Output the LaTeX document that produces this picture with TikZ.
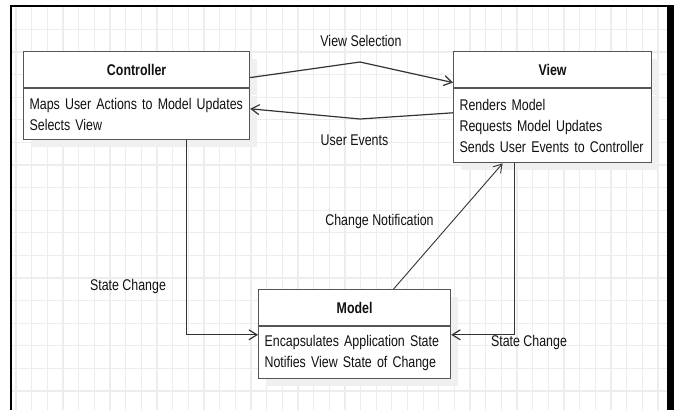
\documentclass[tikz,border=0pt]{standalone}
\usepackage{fontspec}
\setmainfont{Liberation Sans}[FakeStretch=0.80]
\usetikzlibrary{arrows.meta,shadows}

\definecolor{gridc}{HTML}{EDEDED}
\definecolor{boxline}{HTML}{555555}
\definecolor{wire}{HTML}{333333}
\definecolor{ink}{HTML}{111111}
\definecolor{shade}{HTML}{F0F0F0}

\tikzset{
  gridline/.style={draw=gridc, line width=1.3pt},
  boxshadow/.style={general shadow={fill=shade, shadow xshift=7pt, shadow yshift=-7pt}},
  umlhead/.style={draw=boxline, fill=white, line width=1.2pt, text=ink,
    font=\fontsize{15.5}{21}\selectfont\bfseries, inner sep=0pt,
    anchor=north west, boxshadow},
  umlbody/.style={draw=boxline, fill=white, line width=1.2pt, text=ink,
    font=\fontsize{15.5}{21}\selectfont, align=left, inner xsep=6pt,
    inner ysep=0pt, anchor=north, boxshadow},
  wire/.style={draw=wire, line width=1.2pt, -{Straight Barb[length=8pt,width=10pt]}},
  msg/.style={text=ink, font=\fontsize{15.5}{21}\selectfont, anchor=base, inner sep=0pt}
}

\begin{document}
\begin{tikzpicture}[x=1pt, y=-1pt]
\useasboundingbox (0,0) rectangle (674,410);

% background grid
\foreach \i in {0,...,41}
  \draw[gridline] ({16+15.66*\i},6) -- ({16+15.66*\i},410);
\foreach \j in {1,...,17}
  \draw[gridline] (11,{6.8+22.6*\j}) -- (667,{6.8+22.6*\j});

% page frame
\draw[line width=2.4pt, black] (10.7,410) -- (10.7,5.8) -- (667,5.8);
\fill[black] (667,4.8) rectangle (674,410);

% Controller
\node[umlhead, minimum width=226pt, minimum height=36pt] (ctrlH) at (23,51) {Controller};
\node[umlbody, text width=214pt, minimum height=51pt] (ctrl) at (ctrlH.south)
  {\mbox{Maps User Actions to Model Updates}\\\mbox{Selects View}};

% View
\node[umlhead, minimum width=198pt, minimum height=36pt] (viewH) at (453,51) {View};
\node[umlbody, text width=186pt, minimum height=74pt] (view) at (viewH.south)
  {\mbox{Renders Model}\\\mbox{Requests Model Updates}\\\mbox{Sends User Events to Controller}};

% Model
\node[umlhead, minimum width=192pt, minimum height=36pt] (modelH) at (258,289) {Model};
\node[umlbody, text width=180pt, minimum height=52pt] (model) at (modelH.south)
  {\mbox{Encapsulates Application State}\\\mbox{Notifies View State of Change}};

% bend points of the two upper connectors
\coordinate (vsel) at (360,62);
\coordinate (uev) at (360,119);

% connectors
\draw[wire] ([yshift=-8pt]ctrlH.east) -- (vsel) -- ([yshift=-13pt]viewH.west);
\draw[wire] ([yshift=13pt]view.west) -- (uev) -- ([yshift=5.5pt]ctrl.east);
\draw[wire] ([xshift=50pt]ctrl.south) |- ([yshift=18pt]model.west);
\draw[wire] ([xshift=-38pt]view.south) |- ([yshift=18pt]model.east);
\draw[wire, line width=0.9pt] ([xshift=39pt]modelH.north) -- ([xshift=-50pt]view.south);

% connector labels
\node[msg] (lsel) at (361,46) {View Selection};
\node[msg] (levt) at (354.5,145) {User Events};
\node[msg] (lscl) at (128,290) {State Change};
\node[msg] (lcn) at (379.5,225) {Change Notification};
\node[msg] (lscr) at (529,346) {State Change};
\end{tikzpicture}
\end{document}
